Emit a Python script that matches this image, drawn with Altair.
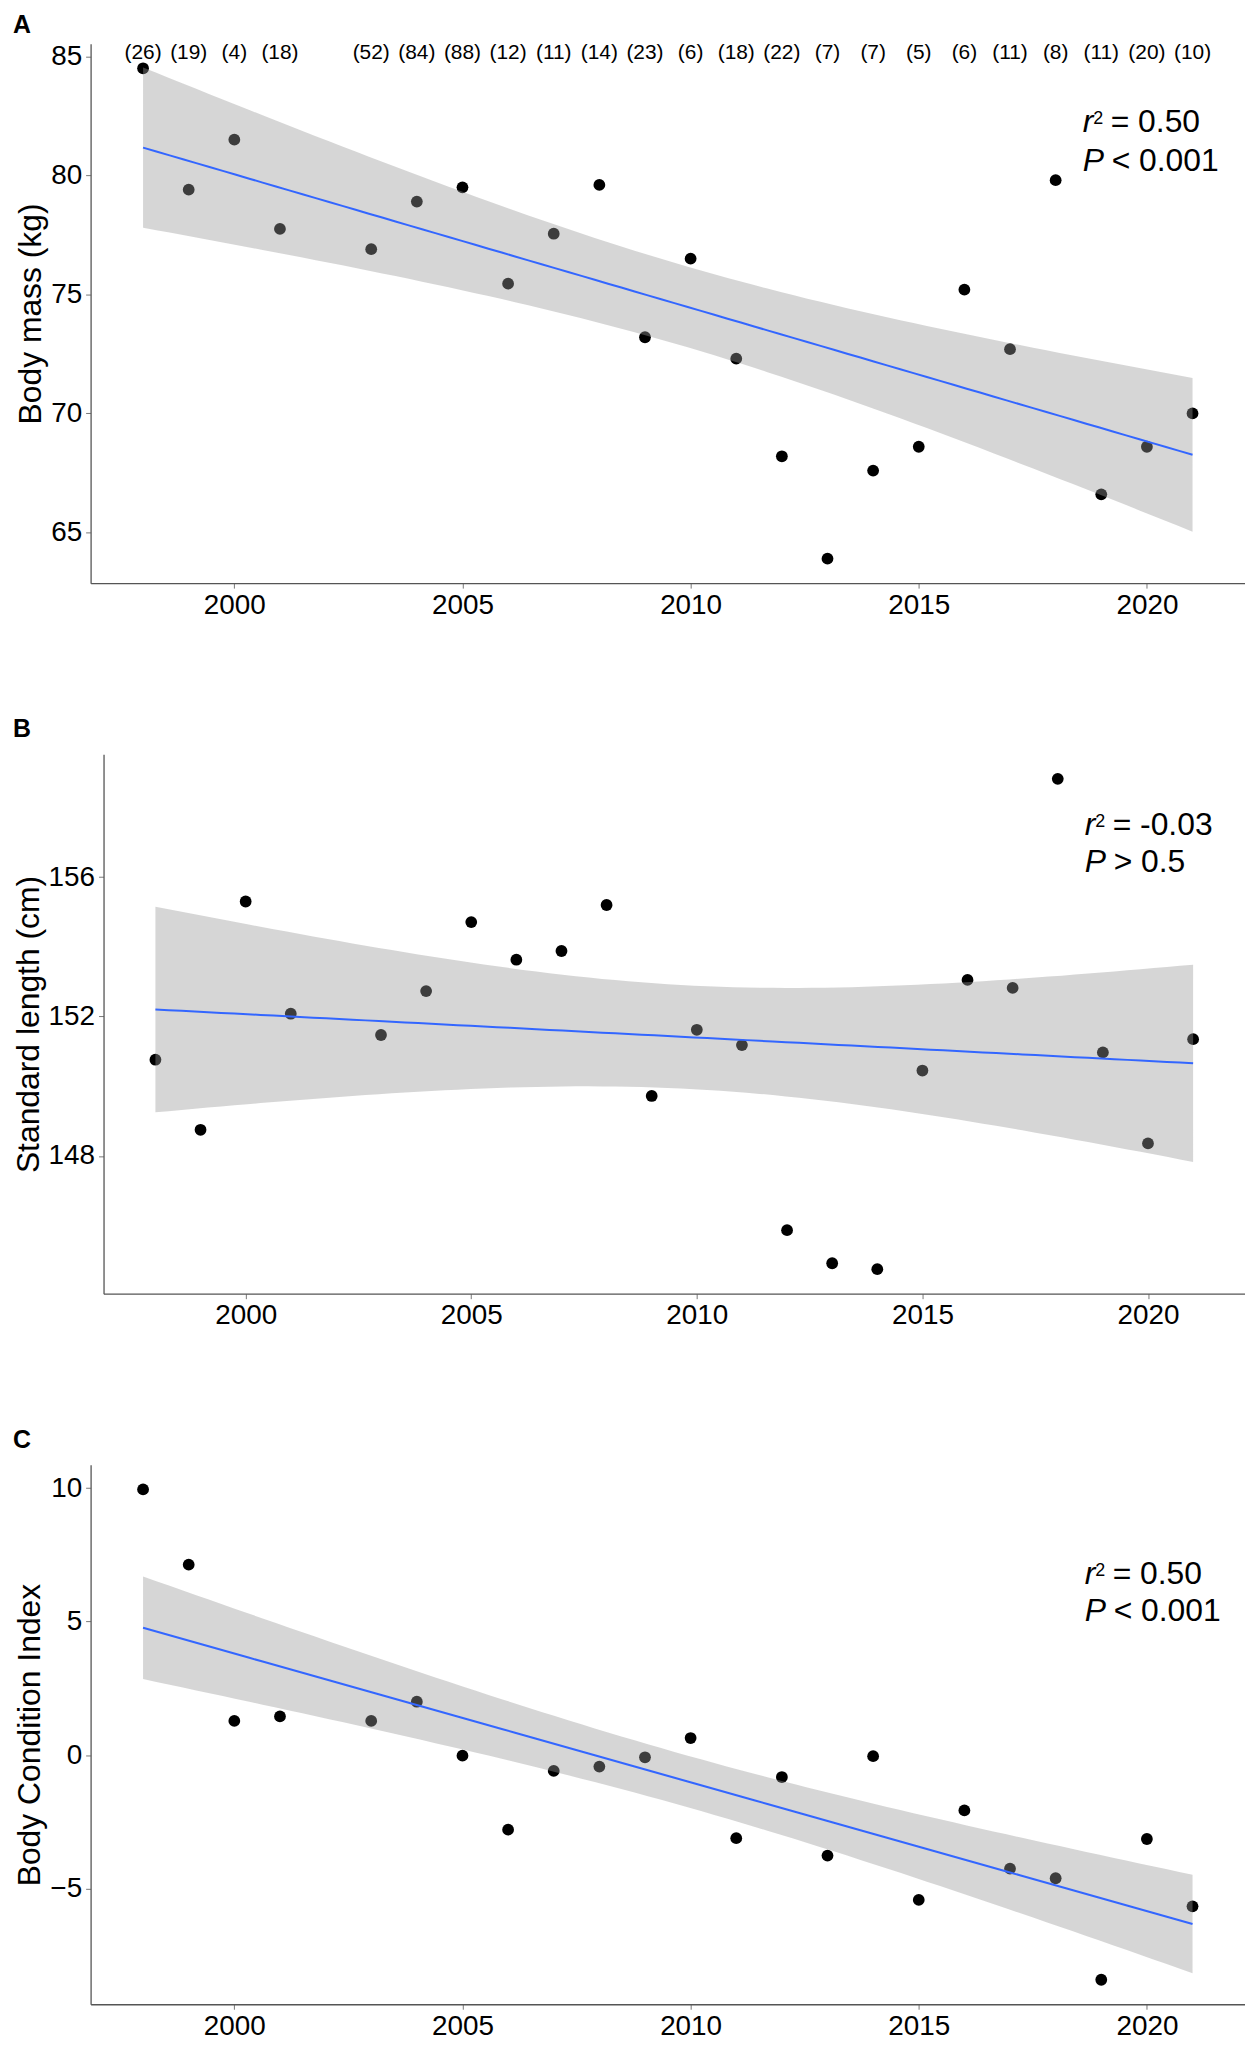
import altair as alt
import numpy as np
import pandas as pd

# ---------------- data ----------------
years = [1998, 1999, 2000, 2001, 2003, 2004, 2005, 2006, 2007, 2008, 2009, 2010,
         2011, 2012, 2013, 2014, 2015, 2016, 2017, 2018, 2019, 2020, 2021]
counts = ["(26)", "(19)", "(4)", "(18)", "(52)", "(84)", "(88)", "(12)", "(11)", "(14)",
          "(23)", "(6)", "(18)", "(22)", "(7)", "(7)", "(5)", "(6)", "(11)", "(8)",
          "(11)", "(20)", "(10)"]
body_mass = [84.5, 79.4, 81.5, 77.75, 76.9, 78.9, 79.5, 75.45, 77.55, 79.6, 73.2, 76.5,
             72.3, 68.2, 63.9, 67.6, 68.6, 75.2, 72.7, 79.8, 66.6, 68.6, 70.0]
std_length = [150.76, 148.75, 155.3, 152.08, 151.47, 152.73, 154.71, 153.63, 153.88,
              155.2, 149.72, 151.62, 151.18, 145.87, 144.92, 144.75, 150.45, 153.05,
              152.82, 158.82, 150.97, 148.36, 151.35]
bci = [9.95, 7.13, 1.28, 1.45, 1.28, 2.0, -0.02, -2.79, -0.59, -0.43, -0.08, 0.64,
       -3.11, -0.82, -3.76, -0.04, -5.42, -2.07, -4.25, -4.61, -8.41, -3.14, -5.66]

x_ticks = [2000, 2005, 2010, 2015, 2020]
ticks_a = [65, 70, 75, 80, 85]
ticks_b = [144, 148, 152, 156]
ticks_c = [-5, 0, 5, 10]

T_CRIT = 2.080  # t(0.975, df = 21) for the 95% confidence band of the linear fit

FONT = "Liberation Sans, Arial, sans-serif"
W = 1160
H = 542


def fit_band(x, y, n_grid=80):
    x = np.asarray(x, float)
    y = np.asarray(y, float)
    n = len(x)
    xm = x.mean()
    sxx = ((x - xm) ** 2).sum()
    b = ((x - xm) * (y - y.mean())).sum() / sxx
    a = y.mean() - b * xm
    s = np.sqrt(((y - (a + b * x)) ** 2).sum() / (n - 2))
    g = np.linspace(x.min(), x.max(), n_grid)
    fit = a + b * g
    se = s * np.sqrt(1.0 / n + (g - xm) ** 2 / sxx)
    return pd.DataFrame({"year": g, "fit": fit, "lo": fit - T_CRIT * se, "hi": fit + T_CRIT * se})


def expand(vals):
    lo, hi = min(vals), max(vals)
    pad = 0.05 * (hi - lo)
    return [lo - pad, hi + pad]


xdom = expand(years)


def panel(values, ytitle, letter, letter_y, yticks, op_txt, r2_txt, p_op, p_txt,
          ann_x, ann_y1, ann_y2, shift=0, with_counts=False):
    df = pd.DataFrame({"year": years, "value": values, "n": counts})
    band = fit_band(years, values)
    if shift:
        xs = alt.Scale(domain=xdom, range=[shift, W], nice=False, zero=False)
    else:
        xs = alt.Scale(domain=xdom, nice=False, zero=False)
    ys = alt.Scale(domain=expand(values), nice=False, zero=False)
    xaxis = alt.Axis(values=x_ticks, format="d", title=None, labelPadding=3)
    yaxis = alt.Axis(values=yticks, title=ytitle, labelPadding=4, titlePadding=3,
                     offset=-shift)

    pts = alt.Chart(df).mark_circle(size=140, color="black", opacity=1).encode(
        x=alt.X("year:Q", scale=xs, axis=xaxis),
        y=alt.Y("value:Q", scale=ys, axis=yaxis),
    )
    rib = alt.Chart(band).mark_area(color="#999999", opacity=0.4).encode(
        x=alt.X("year:Q", scale=xs, axis=xaxis),
        y=alt.Y("lo:Q", scale=ys, axis=yaxis),
        y2="hi:Q",
    )
    line = alt.Chart(band).mark_line(color="#3366FF", strokeWidth=2).encode(
        x=alt.X("year:Q", scale=xs, axis=xaxis),
        y=alt.Y("fit:Q", scale=ys, axis=yaxis),
    )
    layers = [pts, rib, line]
    if with_counts:
        lab = alt.Chart(df).mark_text(fontSize=21, font=FONT, color="black",
                                      baseline="alphabetic", align="center").encode(
            x=alt.X("year:Q", scale=xs, axis=xaxis),
            y=alt.value(15),
            text="n:N",
        )
        layers.append(lab)

    one = pd.DataFrame({"k": [0]})

    def txt(t, x, y, size=32, style="normal", weight="normal"):
        return alt.Chart(one).mark_text(text=t, fontSize=size, font=FONT, fontStyle=style,
                                        fontWeight=weight, color="black", align="left",
                                        baseline="alphabetic").encode(
            x=alt.value(x), y=alt.value(y))

    layers += [
        txt("r", ann_x, ann_y1, style="italic"),
        txt("2", ann_x + 10.5, ann_y1 - 8, size=18),
        txt(op_txt + " " + r2_txt, ann_x + 28, ann_y1),
        txt("P", ann_x, ann_y2, style="italic"),
        txt(p_op + " " + p_txt, ann_x + 29, ann_y2),
        txt(letter, -78, letter_y, size=25, weight="bold"),
    ]
    return alt.layer(*layers).properties(width=W, height=H)


pa = panel(body_mass, "Body mass (kg)", "A", -11, ticks_a, "=", "0.50", "<", "0.001",
           997, 89, 128, with_counts=True)
pb = panel(std_length, "Standard length (cm)", "B", -17, ticks_b, "=", "-0.03", ">", "0.5",
           999, 81, 118, shift=13)
pc = panel(bci, "Body Condition Index", "C", -17, ticks_c, "=", "0.50", "<", "0.001",
           999, 120, 157)

chart = alt.vconcat(pa, pb, pc, spacing=99).properties(
    padding={"left": 4, "top": 0, "right": 0, "bottom": 0}
).configure_view(stroke=None).configure_axis(
    grid=False,
    labelFont=FONT, titleFont=FONT,
    labelFontSize=28, titleFontSize=32, titleFontWeight="normal",
    labelColor="black", titleColor="black",
    domainColor="#555555", domainWidth=1.3,
    tickColor="#777777", tickSize=5, tickWidth=1,
)

chart.save("out.html", embed_options={"renderer": "svg", "actions": False})
